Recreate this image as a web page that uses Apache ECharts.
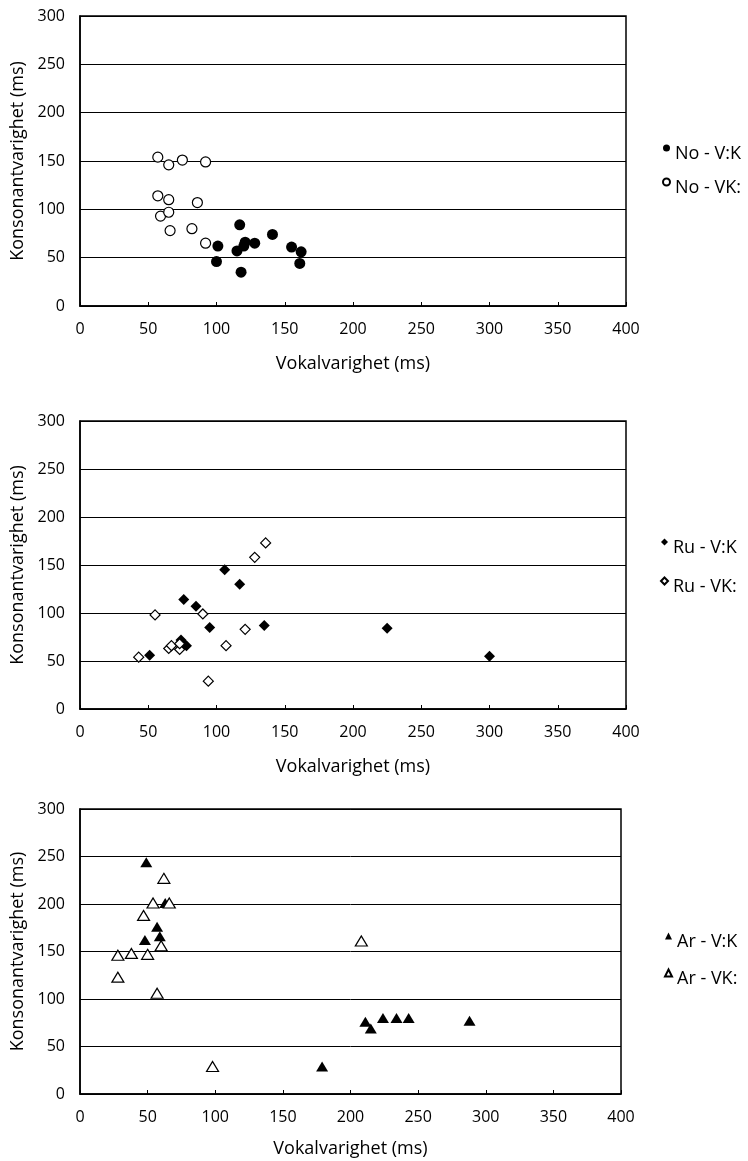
<!DOCTYPE html>
<html>
<head>
<meta charset="utf-8">
<script src="https://cdn.jsdelivr.net/npm/echarts@6/dist/echarts.min.js"></script>
<style>
  html, body { margin: 0; padding: 0; background: #fff; }
  #chart { width: 748px; height: 1161px; }
</style>
</head>
<body>
<div id="chart"></div>
<script>
// values: [vokal ms, konsonant ms]
const noVK_long = [[101, 62], [100, 46], [117, 84], [115, 57], [120, 62], [121, 66],
  [128, 65], [141, 74], [155, 61], [162, 56], [161, 44], [118, 35]];
const noVK_short = [[57, 154], [65, 146], [75, 151], [92, 149], [57, 114], [65, 110],
  [86, 107], [59, 93], [65, 97], [66, 78], [82, 80], [92, 65]];

const ruVK_long = [[51, 56], [76, 114], [85, 107], [74, 72], [76, 68], [78, 66],
  [95, 85], [106, 145], [117, 130], [135, 87], [225, 84], [300, 55]];
const ruVK_short = [[43, 54], [55, 98], [65, 63], [67, 66], [73, 62], [73, 68],
  [90, 99], [94, 29], [107, 66], [121, 83], [128, 158], [136, 173]];

const arVK_long = [[49, 244], [48, 162], [57, 176], [59, 166], [63, 201], [179, 29],
  [211, 76], [215, 69], [224, 80], [234, 80], [243, 80], [288, 77]];
const arVK_short = [[28, 146], [28, 123], [38, 148], [50, 147], [47, 188], [54, 201],
  [62, 227], [66, 201], [60, 156], [57, 106], [98, 29], [208, 161]];

const seriesNames = [
  ['No - V:K', 'No - VK:'],
  ['Ru - V:K', 'Ru - VK:'],
  ['Ar - V:K', 'Ar - VK:']
];
const xTicks = { min: 0, max: 400, interval: 50 };
const yTicks = { min: 0, max: 300, interval: 50 };

const font = 'Open Sans';
const chart = echarts.init(document.getElementById('chart'));

const grids = [
  { left: 80, top: 16, width: 546, height: 290 },
  { left: 80, top: 421, width: 546, height: 288 },
  { left: 80, top: 809, width: 541, height: 285 }
];
const xNameGaps = [49, 49, 46];
const legendTops = [133, 527, 921];
const legendLefts = [662, 660, 664];
const legendGaps = [4, 9, 7];

function xAxis(i) {
  return {
    gridIndex: i, type: 'value', ...xTicks,
    name: 'Vokalvarighet (ms)', nameLocation: 'middle', nameGap: xNameGaps[i],
    nameTextStyle: { color: '#000', fontFamily: font, fontSize: 18 },
    axisLine: { lineStyle: { color: '#000', width: 1.5 } },
    axisTick: { inside: true, length: 4, lineStyle: { color: '#000' } },
    axisLabel: { color: '#000', fontFamily: font, fontSize: 16, margin: 15 },
    splitLine: { show: false }
  };
}

function yAxis(i) {
  return {
    gridIndex: i, type: 'value', ...yTicks,
    name: 'Konsonantvarighet (ms)', nameLocation: 'middle', nameGap: 50,
    nameTextStyle: { color: '#000', fontFamily: font, fontSize: 18 },
    axisLine: { show: true, lineStyle: { color: '#000', width: 1.5 } },
    axisTick: { show: false },
    axisLabel: { color: '#000', fontFamily: font, fontSize: 16, margin: 15, padding: [6, 0, 0, 0] },
    splitLine: { lineStyle: { color: '#000', width: 1 } }
  };
}

const filled = { color: '#000', opacity: 1 };
const open = { color: '#fff', borderColor: '#000', borderWidth: 1.2, opacity: 1 };

function pair(i, data1, data2, symbol, size1, size2) {
  return [
    { name: seriesNames[i][0], type: 'scatter', xAxisIndex: i, yAxisIndex: i,
      symbol: symbol, symbolSize: size1, itemStyle: filled, data: data1 },
    { name: seriesNames[i][1], type: 'scatter', xAxisIndex: i, yAxisIndex: i,
      symbol: symbol, symbolSize: size2, itemStyle: open, data: data2 }
  ];
}

const option = {
  backgroundColor: '#fff',
  animation: false,
  grid: grids.map(g => ({ ...g, show: true, borderColor: '#000', borderWidth: 1.5 })),
  xAxis: [0, 1, 2].map(xAxis),
  yAxis: [0, 1, 2].map(yAxis),
  legend: [0, 1, 2].map(i => ({
    data: seriesNames[i],
    orient: 'vertical',
    left: legendLefts[i], top: legendTops[i],
    padding: 0,
    itemWidth: 7, itemHeight: 7, itemGap: legendGaps[i],
    formatter: name => '{t|' + name + '}',
    textStyle: {
      rich: { t: { color: '#000', fontFamily: font, fontSize: 18, lineHeight: 18, padding: [12, 0, 0, 0] } }
    }
  })),
  series: [
    ...pair(0, noVK_long, noVK_short, 'circle', 11, 10),
    ...pair(1, ruVK_long, ruVK_short, 'diamond', 11, 10),
    ...pair(2, arVK_long, arVK_short, 'triangle', [12, 10], [12, 10])
  ]
};

chart.setOption(option);
</script>
</body>
</html>
